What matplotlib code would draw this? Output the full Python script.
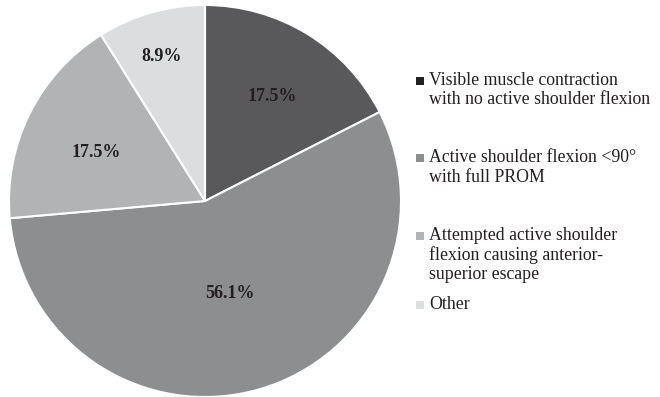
import numpy as np
import matplotlib.pyplot as plt
from matplotlib.patches import Rectangle

# slice data
categories = ['Visible muscle contraction\nwith no active shoulder flexion',
              'Active shoulder flexion <90°\nwith full PROM',
              'Attempted active shoulder\nflexion causing anterior-\nsuperior escape',
              'Other']
values = [17.5, 56.1, 17.5, 8.9]
colors = ['#59595b', '#8d8e90', '#b2b3b5', '#dcdddf']
legend_colors = ['#231f20', '#8d8e90', '#b2b3b5', '#dcdddf']
label_dist = [0.66, 0.46, 0.62, 0.80]

plt.rcParams['font.family'] = ['Liberation Serif', 'DejaVu Serif']

fig = plt.figure(figsize=(6.6, 3.97), dpi=100)
W, H = 660, 397

# pie: centre ~(205, 202) px, radius ~196 px
ax = fig.add_axes([9 / W, 0 / H, 392 / W, 392 / H])
wedges, _ = ax.pie(values, colors=colors, startangle=90, counterclock=False,
                   wedgeprops=dict(edgecolor='white', linewidth=1.5))
ax.set_aspect('equal')
ax.set_xlim(-1, 1)
ax.set_ylim(-1, 1)

for w, v, d in zip(wedges, values, label_dist):
    ang = np.deg2rad((w.theta1 + w.theta2) / 2)
    ax.text(d * np.cos(ang), d * np.sin(ang) - 0.03, f'{v}%', ha='center', va='center',
            fontsize=13, fontweight='bold', color='#231f20')

# legend drawn by hand (uneven spacing in the original); y = first-line baseline in px
baselines = [85, 162, 240, 309]
line_step = 19.5
for lab, c, y in zip(categories, legend_colors, baselines):
    fig.patches.append(Rectangle((416 / W, 1 - y / H), 8 / W, 8 / H,
                                 transform=fig.transFigure, facecolor=c,
                                 edgecolor='none'))
    for i, line in enumerate(lab.split('\n')):
        fig.text(429 / W, 1 - (y + i * line_step) / H, line, ha='left',
                 va='baseline', fontsize=12.8, color='#231f20')

fig.savefig('out.png', dpi=100)
